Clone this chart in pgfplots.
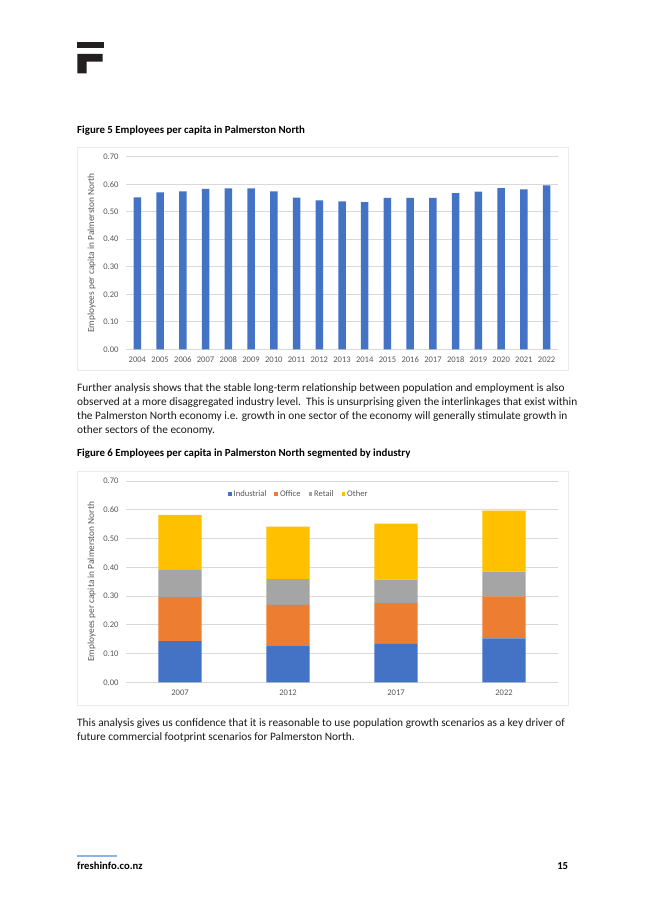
\documentclass[border=0pt]{standalone}
\usepackage{fontspec}
\setmainfont{Carlito}
\usepackage{pgfplots}
\usepackage{pgfplotstable}
\pgfplotsset{compat=1.18}
\definecolor{cblue}{HTML}{4472C4}
\definecolor{corange}{HTML}{ED7D31}
\definecolor{cgray}{HTML}{A5A5A5}
\definecolor{cgold}{HTML}{FFC000}
\definecolor{tickc}{HTML}{595959}
\definecolor{gridc}{HTML}{D9D9D9}
\definecolor{framec}{HTML}{EBEBEB}
\definecolor{logoc}{HTML}{231F20}
\definecolor{footblue}{HTML}{8DB4E2}
\definecolor{textc}{HTML}{1A1A1A}
\newcommand{\bodyfont}{\fontsize{11.4}{14}\selectfont}
\newcommand{\capfont}{\fontsize{10.9}{13}\selectfont\bfseries}

\pgfplotstableread{
x y
0 0.552
1 0.570
2 0.574
3 0.583
4 0.585
5 0.585
6 0.574
7 0.551
8 0.541
9 0.538
10 0.535
11 0.550
12 0.550
13 0.550
14 0.568
15 0.573
16 0.586
17 0.581
18 0.596
}\percapita

\pgfplotstableread{
x ind off ret oth
0 0.143 0.153 0.097 0.189
1 0.128 0.141 0.090 0.182
2 0.134 0.141 0.082 0.195
3 0.153 0.146 0.086 0.212
}\segments

\pgfplotsset{excel/.style={
  scale only axis, anchor=south west,
  ymin=0, ymax=0.7, ytick={0,0.1,0.2,0.3,0.4,0.5,0.6,0.7},
  ymajorgrids, grid style={gridc, line width=0.8bp},
  axis line style={draw=none}, major tick length=0pt,
  tick label style={font=\fontsize{8.6}{10}\selectfont, text=tickc},
  /pgf/number format/assume math mode=true,
  yticklabel style={/pgf/number format/.cd, fixed, fixed zerofill, precision=2, /tikz/.cd, xshift=-4bp},
  xticklabel style={yshift=-4bp},
  ylabel={Employees per capita in Palmerston North},
  label style={font=\fontsize{9.4}{11}\selectfont, text=tickc},
  ylabel style={at={(axis description cs:-0.0794,0.5)}, anchor=center},
}}

\begin{document}
\begin{tikzpicture}
\useasboundingbox (0,0) rectangle (645bp,912bp);
\fill[white] (0,0) rectangle (645bp,912bp);
% logo
\fill[logoc] (77.3bp,870.3bp) rectangle (103.7bp,863.7bp);
\fill[logoc] (77.3bp,858bp) -- (102.7bp,858bp) -- (102.7bp,850.3bp) -- (86.7bp,850.3bp) -- (86.7bp,838.7bp) -- (77.3bp,838.7bp) -- cycle;
% captions and text
\node[anchor=base west, inner sep=0, font=\capfont, text=black] at (77bp,778.5bp) {Figure 5 Employees per capita in Palmerston North};
\draw[framec, line width=0.8bp] (77.3bp,764.7bp) rectangle (568.3bp,541.3bp);
\draw[framec, line width=0.8bp] (77.3bp,441bp) rectangle (568.3bp,206.3bp);

\node[anchor=base west, inner sep=0, font=\bodyfont, text=textc] at (77bp,520.5bp) {Further analysis shows that the stable long-term relationship between population and employment is also};
\node[anchor=base west, inner sep=0, font=\bodyfont, text=textc] at (77bp,506.5bp) {observed at a more disaggregated industry level.\ \ This is unsurprising given the interlinkages that exist within};
\node[anchor=base west, inner sep=0, font=\bodyfont, text=textc] at (77bp,492.5bp) {the Palmerston North economy i.e. growth in one sector of the economy will generally stimulate growth in};
\node[anchor=base west, inner sep=0, font=\bodyfont, text=textc] at (77bp,478.5bp) {other sectors of the economy.};
\node[anchor=base west, inner sep=0, font=\capfont, text=black] at (77bp,455.2bp) {Figure 6 Employees per capita in Palmerston North segmented by industry};

\node[anchor=base west, inner sep=0, font=\bodyfont, text=textc] at (77bp,185.2bp) {This analysis gives us confidence that it is reasonable to use population growth scenarios as a key driver of};
\node[anchor=base west, inner sep=0, font=\bodyfont, text=textc] at (77bp,171.2bp) {future commercial footprint scenarios for Palmerston North.};

\draw[footblue, line width=1.5bp] (77.3bp,56bp) -- (117.3bp,56bp);
\node[anchor=base west, inner sep=0, font=\fontsize{10.7}{13}\selectfont\bfseries, text=black] at (77bp,42.5bp) {freshinfo.co.nz};
\node[anchor=base east, inner sep=0, font=\fontsize{10.7}{13}\selectfont\bfseries, text=black] at (568.3bp,42.5bp) {15};

% chart 1
\begin{axis}[excel, width=432bp, height=192.6bp, at={(126bp,562.7bp)},
  xmin=-0.5, xmax=18.5, xtick={0,...,18},
  xticklabels={2004,2005,2006,2007,2008,2009,2010,2011,2012,2013,2014,2015,2016,2017,2018,2019,2020,2021,2022},
  ybar, bar width=7.5bp]
\addplot[fill=cblue, draw=none] table[x=x, y=y] {\percapita};
\end{axis}

% chart 2
\begin{axis}[excel, width=432bp, height=201.3bp, at={(126bp,229.7bp)},
  xmin=-0.5, xmax=3.5, xtick={0,1,2,3}, xticklabels={2007,2012,2017,2022},
  ybar stacked, bar width=43.3bp,
  legend columns=4,
  legend style={at={(0.40,0.934)}, anchor=center, draw=none, fill=none,
    font=\fontsize{8.6}{10}\selectfont, text=tickc,
    /tikz/every even column/.append style={column sep=6bp}},
  legend image code/.code={\fill[#1, draw=none] (0bp,-1.8bp) rectangle (3.6bp,1.8bp);}]
\addplot[fill=cblue, draw=none] table[x=x, y=ind] {\segments};
\addplot[fill=corange, draw=none] table[x=x, y=off] {\segments};
\addplot[fill=cgray, draw=none] table[x=x, y=ret] {\segments};
\addplot[fill=cgold, draw=none] table[x=x, y=oth] {\segments};
\legend{Industrial,Office,Retail,Other}
\end{axis}
\end{tikzpicture}
\end{document}
